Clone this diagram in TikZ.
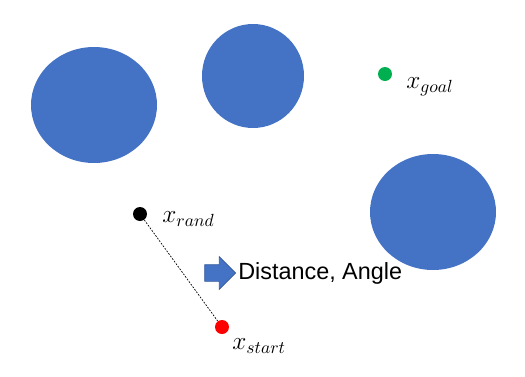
\documentclass[tikz,border=0pt]{standalone}
\usepackage{fontspec}
\newfontfamily\arialfont{Liberation Sans}
\usetikzlibrary{shapes.arrows}
\definecolor{obstblue}{HTML}{4472C4}
\definecolor{goalgreen}{HTML}{00B050}
\tikzset{
  pt/.style={circle,inner sep=0pt,minimum size=0.28cm},
  lbl/.style={anchor=west,inner sep=0pt,font=\fontsize{14}{16}\selectfont}
}
\begin{document}
\begin{tikzpicture}
  \useasboundingbox (0,0) rectangle (10.5,7.52);
  % obstacles
  \fill[obstblue] (1.88,5.42) ellipse[x radius=1.26,y radius=1.16];
  \fill[obstblue] (5.06,6.0) ellipse[x radius=1.02,y radius=1.04];
  \fill[obstblue] (8.66,3.28) ellipse[x radius=1.26,y radius=1.16];
  % samples
  \node[pt,fill=goalgreen] (goal) at (7.70,6.04) {};
  \node[pt,fill=black] (rand) at (2.80,3.24) {};
  \node[pt,fill=red] (start) at (4.44,0.98) {};
  \draw[dash pattern=on 1pt off 0.8pt,thin] (rand) -- (start);
  \node[lbl] (goallbl) at (8.12,5.78) {$x_{goal}$};
  \node[lbl] (randlbl) at (3.24,3.14) {$x_{rand}$};
  \node[lbl] (startlbl) at (4.64,0.60) {$x_{start}$};
  % result
  \node[single arrow,fill=obstblue,draw=obstblue!80!black,thin,
    minimum height=0.62cm,inner xsep=0pt,inner ysep=0.16cm,
    single arrow head extend=0.16cm] (arr) at (4.32,2.06) {};
  \node[anchor=west,inner sep=0pt,font=\arialfont\fontsize{13.3}{15}\selectfont]
    (res) at (4.76,2.06) {Distance, Angle};
\end{tikzpicture}
\end{document}
